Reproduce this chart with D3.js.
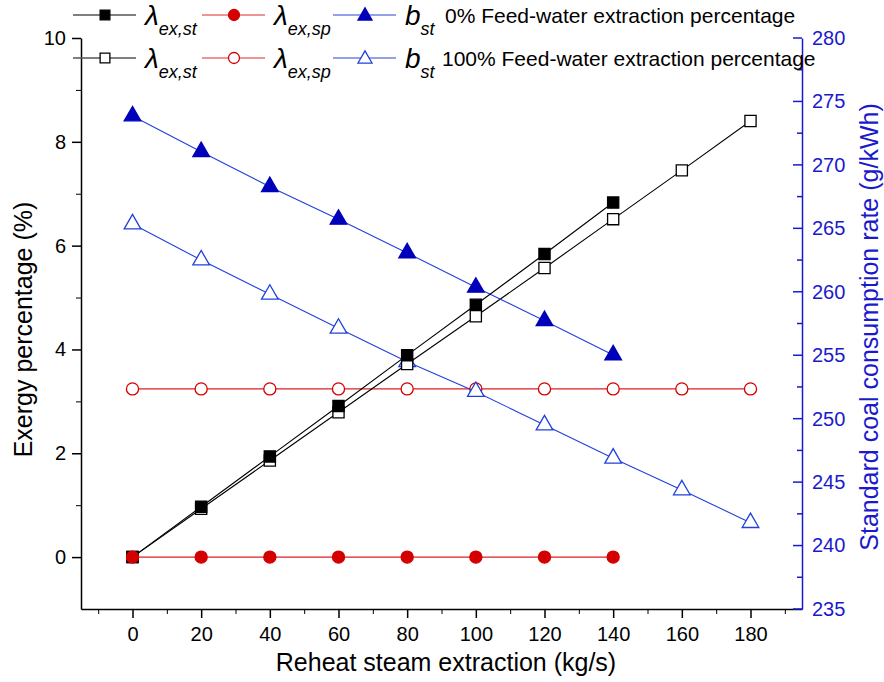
<!DOCTYPE html>
<html>
<head>
<meta charset="utf-8">
<script src="https://cdn.jsdelivr.net/npm/d3@7"></script>
<style>
  body { margin: 0; background: #fff; }
  text { font-family: "Liberation Sans", Arial, sans-serif; }
</style>
</head>
<body>
<svg width="884" height="682"></svg>
<script>
// data
const extraction = [0, 20, 40, 60, 80, 100, 120, 140, 160, 180];
const lamStZero = [0, 0.97, 1.94, 2.91, 3.89, 4.86, 5.84, 6.83];
const lamSpZero = [0, 0, 0, 0, 0, 0, 0, 0];
const bStZero = [273.85, 271.04, 268.28, 265.71, 263.06, 260.35, 257.72, 255.02];
const lamStFull = [0, 0.93, 1.86, 2.79, 3.72, 4.64, 5.57, 6.51, 7.45, 8.40];
const lamSpFull = [3.24, 3.24, 3.24, 3.24, 3.24, 3.24, 3.24, 3.24, 3.24, 3.24];
const bStFull = [265.34, 262.50, 259.80, 257.12, 254.49, 252.13, 249.50, 246.88, 244.38, 241.80];

const xTicks = [0, 20, 40, 60, 80, 100, 120, 140, 160, 180];
const yTicks = [0, 2, 4, 6, 8, 10];
const y2Ticks = [235, 240, 245, 250, 255, 260, 265, 270, 275, 280];
const legendRows = ['0% Feed-water extraction percentage', '100% Feed-water extraction percentage'];

const svg = d3.select('svg');
const width = +svg.attr('width');
const height = +svg.attr('height');
const margin = {top: 38, right: 82, bottom: 73, left: 81};

const black = '#000';
const red = '#d40000';
const redLine = '#dd2020';
const blue = '#0000bb';
const blueLine = '#2040dd';
const axisBlue = '#1a1acc';

const xScale = d3.scaleLinear().domain([-15, 195]).range([margin.left, width - margin.right]);
const yScale = d3.scaleLinear().domain([-1, 10]).range([height - margin.bottom, margin.top]);
const y2Scale = d3.scaleLinear().domain([235, 280]).range([height - margin.bottom, margin.top]);

const fontSize = 20;
const titleSize = 25;

// x axis
const xAxisG = svg.append('g')
  .attr('transform', `translate(0,${height - margin.bottom})`)
  .call(d3.axisBottom(xScale).tickValues(xTicks).tickSize(9).tickPadding(9).tickSizeOuter(0));
svg.append('g')
  .attr('transform', `translate(0,${height - margin.bottom})`)
  .call(d3.axisBottom(xScale).tickValues(d3.range(-10, 195, 20)).tickSize(5).tickFormat('').tickSizeOuter(0))
  .select('.domain').remove();

// left axis
const yAxisG = svg.append('g')
  .attr('transform', `translate(${margin.left},0)`)
  .call(d3.axisLeft(yScale).tickValues(yTicks).tickSize(9).tickPadding(6).tickSizeOuter(0));
svg.append('g')
  .attr('transform', `translate(${margin.left},0)`)
  .call(d3.axisLeft(yScale).tickValues([1, 3, 5, 7, 9]).tickSize(5).tickFormat('').tickSizeOuter(0))
  .select('.domain').remove();

// right axis (ticks point inward)
const y2AxisG = svg.append('g')
  .attr('transform', `translate(${width - margin.right},0)`)
  .call(d3.axisRight(y2Scale).tickValues(y2Ticks).tickSize(0).tickPadding(10).tickSizeOuter(0));
svg.append('g')
  .selectAll('line')
  .data(y2Ticks.concat(d3.range(237.5, 280, 5)))
  .enter().append('line')
    .attr('x1', width - margin.right)
    .attr('x2', d => width - margin.right - (d % 5 === 0 ? 9 : 5))
    .attr('y1', d => y2Scale(d))
    .attr('y2', d => y2Scale(d))
    .attr('stroke', axisBlue)
    .attr('stroke-width', 1.5);

[xAxisG, yAxisG].forEach(a => {
  a.selectAll('text').attr('font-size', fontSize).attr('fill', black)
    .style('font-family', '"Liberation Sans", Arial, sans-serif');
  a.selectAll('line, path').attr('stroke', black).attr('stroke-width', 1.5);
});
y2AxisG.selectAll('text').attr('font-size', fontSize).attr('fill', axisBlue)
  .style('font-family', '"Liberation Sans", Arial, sans-serif');
y2AxisG.select('.domain').attr('stroke', axisBlue).attr('stroke-width', 1.5);

// axis titles
svg.append('text')
  .attr('x', 446)
  .attr('y', 671)
  .attr('text-anchor', 'middle')
  .attr('font-size', titleSize)
  .text('Reheat steam extraction (kg/s)');

svg.append('text')
  .attr('transform', `translate(32,${(margin.top + height - margin.bottom) / 2 + 6}) rotate(-90)`)
  .attr('text-anchor', 'middle')
  .attr('font-size', titleSize)
  .text('Exergy percentage (%)');

svg.append('text')
  .attr('transform', `translate(878,327) rotate(-90)`)
  .attr('text-anchor', 'middle')
  .attr('font-size', titleSize)
  .attr('fill', axisBlue)
  .text('Standard coal consumption rate (g/kWh)');

// markers
const square = d3.symbol().type(d3.symbolSquare).size(125);
const circle = d3.symbol().type(d3.symbolCircle).size(115);
const triangle = d3.symbol().type(d3.symbolTriangle).size(120);

const series = [
  {vals: lamSpFull, y: yScale, line: redLine, sym: circle, fill: '#fff', stroke: red},
  {vals: bStFull, y: y2Scale, line: blueLine, sym: triangle, fill: '#fff', stroke: blueLine},
  {vals: lamStFull, y: yScale, line: black, sym: square, fill: '#fff', stroke: black},
  {vals: bStZero, y: y2Scale, line: blueLine, sym: triangle, fill: blue, stroke: blue},
  {vals: lamStZero, y: yScale, line: black, sym: square, fill: black, stroke: black},
  {vals: lamSpZero, y: yScale, line: redLine, sym: circle, fill: red, stroke: red}
];

series.forEach(s => {
  const pts = s.vals.map((v, i) => [extraction[i], v]);
  svg.append('path')
    .datum(pts)
    .attr('fill', 'none')
    .attr('stroke', s.line)
    .attr('stroke-width', 1.1)
    .attr('d', d3.line().x(d => xScale(d[0])).y(d => s.y(d[1])));
  svg.append('g').selectAll('path')
    .data(pts)
    .enter().append('path')
      .attr('transform', d => `translate(${xScale(d[0])},${s.y(d[1])})`)
      .attr('d', s.sym)
      .attr('fill', s.fill)
      .attr('stroke', s.stroke)
      .attr('stroke-width', 1.3);
});

// legend
const legendSquare = d3.symbol().type(d3.symbolSquare).size(95);
const legendCircle = d3.symbol().type(d3.symbolCircle).size(95);
const legendTriangle = d3.symbol().type(d3.symbolTriangle).size(85);
const legendItems = [
  {line: '#555', sym: legendSquare, stroke: black, fills: [black, '#fff'], sym1: 'λ', sub: 'ex,st'},
  {line: '#e87070', sym: legendCircle, stroke: red, fills: [red, '#fff'], sym1: 'λ', sub: 'ex,sp'},
  {line: '#7080e0', sym: legendTriangle, stroke: blue, fills: [blue, '#fff'], sym1: 'b', sub: 'st'}
];
const legendX = [73, 202, 333];
const legendY = [15, 58];
const legendTextX = [445, 442];

legendRows.forEach((label, r) => {
  const gy = legendY[r];
  legendItems.forEach((it, i) => {
    const x0 = legendX[i];
    const g = svg.append('g');
    g.append('line')
      .attr('x1', x0).attr('x2', x0 + 63)
      .attr('y1', gy).attr('y2', gy)
      .attr('stroke', it.line).attr('stroke-width', 1.5);
    g.append('path')
      .attr('transform', `translate(${x0 + 32},${gy + (i === 2 ? 1 : 0)})`)
      .attr('d', it.sym)
      .attr('fill', it.fills[r])
      .attr('stroke', r === 0 ? it.stroke : (i === 2 ? blueLine : it.stroke))
      .attr('stroke-width', 1.3);
    const t = g.append('text')
      .attr('x', x0 + 72)
      .attr('y', gy + 10)
      .attr('font-size', 28)
      .attr('font-style', 'italic')
      .text(it.sym1);
    t.append('tspan')
      .attr('dy', 10)
      .attr('font-size', 18)
      .text(it.sub);
  });
  svg.append('text')
    .attr('x', legendTextX[r])
    .attr('y', gy + 8)
    .attr('font-size', 21)
    .text(label);
});
</script>
</body>
</html>
